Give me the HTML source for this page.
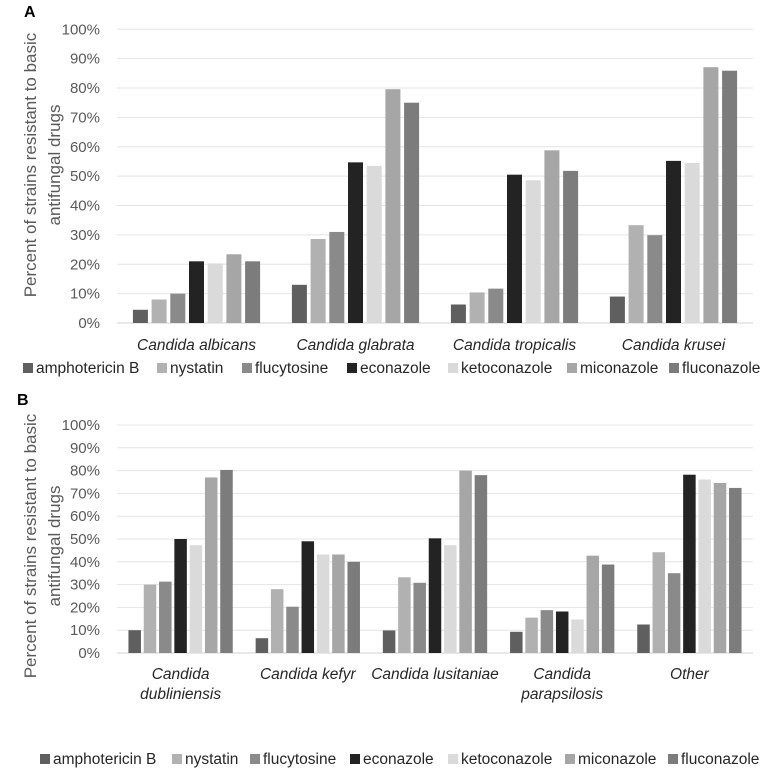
<!DOCTYPE html>
<html><head><meta charset="utf-8">
<style>
body{margin:0;background:#fff;width:774px;height:775px;overflow:hidden;font-family:"Liberation Sans",sans-serif;}
svg text{font-family:"Liberation Sans",sans-serif;}
</style></head>
<body>
<svg id="chart" width="774" height="775" xmlns="http://www.w3.org/2000/svg"></svg>
<script>
const drugs = ["amphotericin B","nystatin","flucytosine","econazole","ketoconazole","miconazole","fluconazole"];
const colors = ["#5f5f5f","#b1b1b1","#8a8a8a","#232323","#dadada","#a6a6a6","#7c7c7c"];
const ticks = [0,10,20,30,40,50,60,70,80,90,100];
const catsA = [["Candida albicans"],["Candida glabrata"],["Candida tropicalis"],["Candida krusei"]];
const valuesA = [
  [4.5,8,10,21,20.3,23.4,21],
  [13,28.6,31,54.7,53.5,79.6,75],
  [6.3,10.4,11.7,50.5,48.6,58.8,51.8],
  [9,33.3,29.9,55.2,54.5,87.1,85.9]
];
const catsB = [["Candida","dubliniensis"],["Candida kefyr"],["Candida lusitaniae"],["Candida","parapsilosis"],["Other"]];
const valuesB = [
  [10,30,31.3,50,47.3,77,80.3],
  [6.5,28,20.3,49,43.2,43.2,40],
  [9.9,33.2,30.8,50.3,47.3,80,78],
  [9.3,15.5,18.8,18.2,14.7,42.7,38.8],
  [12.5,44.2,35,78.2,76.1,74.6,72.4]
];
const svg = document.getElementById('chart');
const NS = "http://www.w3.org/2000/svg";
function mk(tag, attrs, parent){const e=document.createElementNS(NS,tag);for(const k in attrs)e.setAttribute(k,attrs[k]);(parent||svg).appendChild(e);return e;}

function panel(id, letter, cats, values, y0, y100, barW, step, catY, legendY, legendX, letterY, titleCy){
  const g = mk('g',{});
  
  
  const x0=117, x1=753;
  const yScale = v => y0 - (y0-y100)*v/100;
  const gw = (x1-x0)/cats.length;
  const lt = mk('text',{x:letter==='A'?24:17,y:letterY,'font-size':16,'font-weight':'bold',fill:'#000'},g);
  lt.textContent = letter;
  
  
  ticks.forEach(t=>{
    const y=yScale(t);
    const gl = mk('line',{x1:x0,x2:x1,y1:y,y2:y,stroke:t===0?'#d0d0d0':'#e4e4e4','stroke-width':1},g);
    
    
    const tx = mk('text',{x:100,y:y+5,'text-anchor':'end','font-size':15,fill:'#595959'},g);
    tx.textContent = t+'%';
    
    
  });
  const title = mk('text',{transform:`translate(36,${titleCy}) rotate(-90)`,'text-anchor':'middle','font-size':17,fill:'#595959'},g);
  
  
  const t1=mk('tspan',{x:0,dy:0},title); t1.textContent='Percent of strains resistant to basic';
  const t2=mk('tspan',{x:0,dy:24},title); t2.textContent='antifungal drugs';
  cats.forEach((c,i)=>{
    const cx = x0 + gw*(i+0.5);
    values[i].forEach((v,j)=>{
      const x = cx + (j-3)*step - barW/2;
      const y = yScale(v);
      const r = mk('rect',{x:x,y:y,width:barW,height:y0-y,fill:colors[j]},g);
      
      
    });
    c.forEach((line,k)=>{
      const ct = mk('text',{x:cx,y:catY+k*20,'text-anchor':'middle','font-size':15.5,'font-style':'italic',fill:'#262626'},g);
      ct.textContent=line;
      
      
    });
  });
  drugs.forEach((d,j)=>{
    const lg = mk('g',{},g);
    
    
    mk('rect',{x:legendX[j],y:legendY-10,width:10,height:10,fill:colors[j]},lg);
    const lt2 = mk('text',{x:legendX[j]+13,y:legendY,'font-size':15.5,fill:'#262626'},lg);
    lt2.textContent=d;
  });
}
panel('a','A',catsA,valuesA,323,29.3,15,18.7,350,373,[23,157,242,347,448,567,669],17,165);
panel('b','B',catsB,valuesB,653,425,12.5,15.3,679,764,[40,172,250,350,448,565,668],405,546);
</script>
</body></html>
